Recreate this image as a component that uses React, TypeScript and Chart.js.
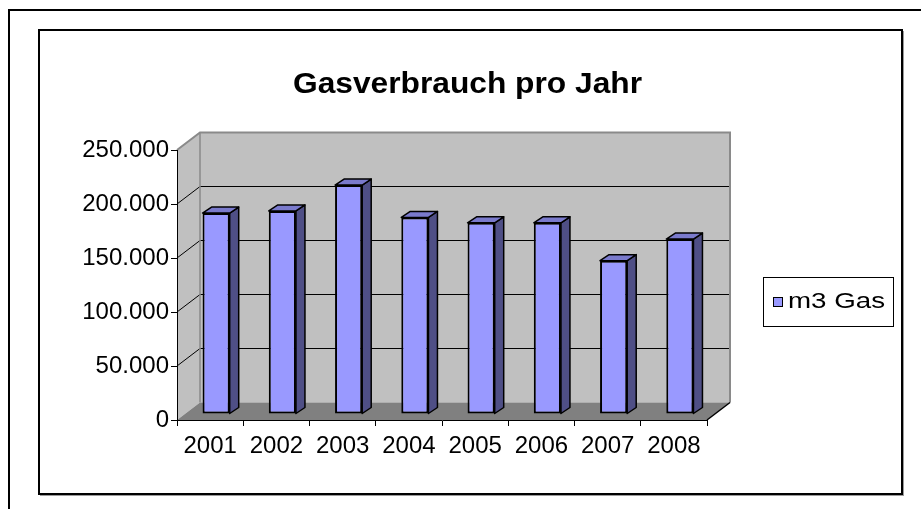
import React, { useEffect, useRef } from "react";
import { Chart, registerables } from "chart.js";

Chart.register(...registerables);

// ---------- data ----------
const categories = ["2001", "2002", "2003", "2004", "2005", "2006", "2007", "2008"];
const gasValues = [186000, 188000, 212000, 182000, 177000, 177000, 142000, 162000];
const seriesName = "m3 Gas";
const chartTitle = "Gasverbrauch pro Jahr";
const yMin = 0;
const yMax = 250000;
const yStep = 50000;

// ---------- style ----------
const FONT = "'Liberation Sans', Arial, Helvetica, sans-serif";
const FRONT = "#9999FF";
const SIDE = "#4F4F86";
const TOP = "#7A7ACC";
const WALL = "#C0C0C0";
const FLOOR = "#808080";
const DX = 23; // wall depth
const DY = -17.5;
const BX = 6; // bar offset into depth
const BY = -6;
const BDX = 9; // bar depth
const BDY = -6;

function formatDE(v: number): string {
  return String(Math.round(v)).replace(/\B(?=(\d{3})+(?!\d))/g, ".");
}

function drawScaledText(ctx: CanvasRenderingContext2D, text: string, font: string, x: number, y: number, targetWidth: number, align: CanvasTextAlign) {
  ctx.save();
  ctx.font = font;
  const w = ctx.measureText(text).width;
  const sx = targetWidth / w;
  ctx.translate(x, y);
  ctx.scale(sx, 1);
  ctx.textAlign = align;
  ctx.textBaseline = "alphabetic";
  ctx.fillStyle = "#000";
  ctx.fillText(text, 0, 0);
  ctx.restore();
}

const threeDPlugin = {
  id: "threeD",
  beforeDraw(chart: any) {
    const ctx: CanvasRenderingContext2D = chart.ctx;
    const a = chart.chartArea;
    const ys = chart.scales.y;
    const L = a.left, R = a.right, T = a.top, B = a.bottom;
    ctx.save();

    // outer frame (partially visible)
    ctx.fillStyle = "#000";
    ctx.fillRect(8, 9, 921 - 8, 2);
    ctx.fillRect(8, 9, 2, 509 - 9);

    // inner chart frame with shadow
    ctx.fillStyle = "#9a9a9a";
    ctx.fillRect(40, 495, 864, 1);
    ctx.fillRect(903, 31, 1, 465);
    ctx.strokeStyle = "#000";
    ctx.lineWidth = 2;
    ctx.strokeRect(39, 30, 863, 464);

    // title
    drawScaledText(ctx, chartTitle, `bold 29px ${FONT}`, 467.5, 93, 349, "center");

    // back wall
    ctx.fillStyle = WALL;
    ctx.fillRect(L + DX, T + DY, R - L, B - T);
    // left wall
    ctx.beginPath();
    ctx.moveTo(L, T);
    ctx.lineTo(L + DX, T + DY);
    ctx.lineTo(L + DX, B + DY);
    ctx.lineTo(L, B);
    ctx.closePath();
    ctx.fill();
    // floor
    ctx.fillStyle = FLOOR;
    ctx.beginPath();
    ctx.moveTo(L, B);
    ctx.lineTo(R, B);
    ctx.lineTo(R + DX, B + DY);
    ctx.lineTo(L + DX, B + DY);
    ctx.closePath();
    ctx.fill();

    // gridlines on walls
    ctx.strokeStyle = "#000";
    ctx.lineWidth = 1;
    for (const t of ys.ticks) {
      const v = t.value;
      if (v <= yMin || v >= yMax) continue;
      const py = ys.getPixelForValue(v);
      ctx.beginPath();
      ctx.moveTo(L, py);
      ctx.lineTo(L + DX, py + DY);
      ctx.lineTo(R + DX, py + DY);
      ctx.stroke();
    }

    // wall edges
    ctx.strokeStyle = "#8a8a8a";
    ctx.lineWidth = 2;
    ctx.beginPath();
    ctx.moveTo(L, T);
    ctx.lineTo(L + DX, T + DY);
    ctx.lineTo(R + DX, T + DY);
    ctx.lineTo(R + DX, B + DY);
    ctx.stroke();
    ctx.lineWidth = 1.5;
    ctx.beginPath();
    ctx.moveTo(L + DX, T + DY);
    ctx.lineTo(L + DX, B + DY);
    ctx.stroke();

    // floor right edge
    ctx.strokeStyle = "#000";
    ctx.lineWidth = 1.5;
    ctx.beginPath();
    ctx.moveTo(R, B);
    ctx.lineTo(R + DX, B + DY);
    ctx.stroke();

    // legend
    ctx.strokeStyle = "#000";
    ctx.lineWidth = 1;
    ctx.strokeRect(763.5, 277.5, 130, 49);
    ctx.fillStyle = FRONT;
    ctx.fillRect(773, 297, 10, 10);
    ctx.strokeRect(773.5, 297.5, 9, 9);
    drawScaledText(ctx, seriesName, `22px ${FONT}`, 788, 308, 97, "left");

    ctx.restore();
  },
  beforeDatasetsDraw(chart: any) {
    chart.ctx.save();
    chart.ctx.translate(BX, BY);
  },
  afterDatasetsDraw(chart: any) {
    const ctx: CanvasRenderingContext2D = chart.ctx;
    const meta = chart.getDatasetMeta(0);
    ctx.lineJoin = "round";
    meta.data.forEach((el: any) => {
      const { x, y, base, width } = el.getProps(["x", "y", "base", "width"], true);
      const l = x - width / 2;
      const r = x + width / 2;
      ctx.strokeStyle = "#000";
      ctx.lineWidth = 1.5;
      ctx.fillStyle = SIDE;
      ctx.beginPath();
      ctx.moveTo(r, y);
      ctx.lineTo(r + BDX, y + BDY);
      ctx.lineTo(r + BDX, base + BDY);
      ctx.lineTo(r, base);
      ctx.closePath();
      ctx.fill();
      ctx.stroke();
      ctx.fillStyle = TOP;
      ctx.beginPath();
      ctx.moveTo(l, y);
      ctx.lineTo(l + BDX, y + BDY);
      ctx.lineTo(r + BDX, y + BDY);
      ctx.lineTo(r, y);
      ctx.closePath();
      ctx.fill();
      ctx.stroke();
    });
    ctx.restore();
  },
};

export default function App() {
  const canvasRef = useRef<HTMLCanvasElement | null>(null);

  useEffect(() => {
    const canvas = canvasRef.current;
    if (!canvas) return;
    const chart = new Chart(canvas, {
      type: "bar",
      data: {
        labels: categories,
        datasets: [
          {
            label: seriesName,
            data: gasValues,
            backgroundColor: FRONT,
            borderColor: "#000",
            borderWidth: 2,
            borderSkipped: false,
            barPercentage: 0.41,
            categoryPercentage: 1,
            clip: false as any,
          },
        ],
      },
      options: {
        responsive: false,
        animation: false,
        devicePixelRatio: 1,
        layout: { padding: { left: 0, top: 150, right: 214, bottom: 0 } },
        plugins: {
          legend: { display: false },
          title: { display: false },
          tooltip: { enabled: false },
        },
        scales: {
          x: {
            type: "category",
            offset: true,
            grid: {
              offset: true,
              drawOnChartArea: false,
              drawTicks: true,
              tickLength: 6,
              tickColor: "#000",
              lineWidth: 1,
            },
            border: { display: true, color: "#000", width: 1 },
            ticks: {
              color: "#000",
              font: { family: FONT, size: 24 },
              padding: 6,
              maxRotation: 0,
              autoSkip: false,
            },
            afterFit(scale: any) {
              scale.height = 89;
            },
          },
          y: {
            min: yMin,
            max: yMax,
            grid: {
              drawOnChartArea: false,
              drawTicks: true,
              tickLength: 6,
              tickColor: "#000",
            },
            border: { display: true, color: "#000", width: 1 },
            ticks: {
              stepSize: yStep,
              color: "#000",
              font: { family: FONT, size: 24 },
              padding: 2,
              callback: (v: any) => formatDE(Number(v)),
            },
            afterFit(scale: any) {
              scale.width = 177;
            },
          },
        },
      },
      plugins: [threeDPlugin],
    });
    return () => chart.destroy();
  }, []);

  return (
    <div style={{ position: "absolute", left: 0, top: 0, width: 921, height: 509, background: "#fff" }}>
      <canvas ref={canvasRef} width={921} height={509} style={{ display: "block", width: 921, height: 509 }} />
    </div>
  );
}
